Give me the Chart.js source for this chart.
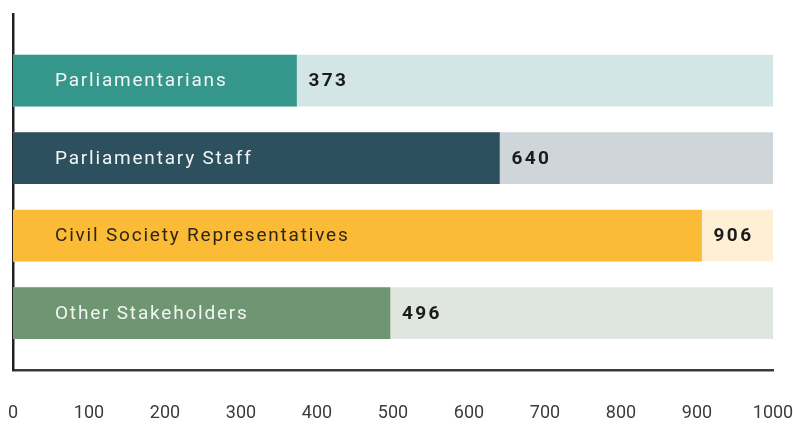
<!DOCTYPE html>
<html>
<head>
<meta charset="utf-8">
<script src="https://cdn.jsdelivr.net/npm/chart.js@4.4.1/dist/chart.umd.min.js"></script>
<style>
    html, body { margin: 0; padding: 0; background: #ffffff; }
    #wrap { width: 793px; height: 434px; }
</style>
</head>
<body>
<div id="wrap"><canvas id="participantsChart" width="793" height="434"></canvas></div>
<script>
// Données du graphique
const categories = ['Parliamentarians', 'Parliamentary Staff', 'Civil Society Representatives', 'Other Stakeholders'];
const participants = [373, 640, 906, 496];
const trackValues = [1000, 1000, 1000, 1000];
const tickValues = [0, 100, 200, 300, 400, 500, 600, 700, 800, 900, 1000];

// Couleurs
const fillColors = ['#35968b', '#2d505f', '#fbbb36', '#6f9673'];
const trackColors = ['#d2e7e5', '#ced6da', '#fff0d5', '#dfe6df'];
const labelColors = ['#f2f7f6', '#f2f5f6', '#2b2615', '#f2f5f1'];

const fillPoints = participants.map((v, i) => ({ x: v, y: i }));
const trackPoints = trackValues.map((v, i) => ({ x: v, y: i }));

// Libellés dans les barres + valeurs
const barLabels = {
    id: 'barLabels',
    afterDatasetsDraw(chart) {
        const ctx = chart.ctx;
        const meta = chart.getDatasetMeta(1);
        ctx.save();
        ctx.textBaseline = 'middle';
        ctx.textAlign = 'left';
        meta.data.forEach((bar, i) => {
            ctx.font = '19px Roboto';
            ctx.letterSpacing = '1.8px';
            ctx.fillStyle = labelColors[i];
            ctx.fillText(categories[i], bar.base + 42, bar.y + 1);

            ctx.font = 'bold 19px Roboto';
            ctx.letterSpacing = '2.4px';
            ctx.fillStyle = '#1b1b1b';
            ctx.fillText(String(participants[i]), bar.x + 12, bar.y + 1);
        });
        ctx.restore();
    }
};

new Chart(document.getElementById('participantsChart'), {
    type: 'bar',
    data: {
        datasets: [
            {
                label: 'Track',
                data: trackPoints,
                backgroundColor: trackColors,
                borderWidth: 0,
                barThickness: 51,
                grouped: false,
                order: 2
            },
            {
                label: 'Participants',
                data: fillPoints,
                backgroundColor: fillColors,
                borderWidth: 0,
                barThickness: 51,
                grouped: false,
                order: 1
            }
        ]
    },
    options: {
        indexAxis: 'y',
        responsive: false,
        animation: false,
        layout: {
            padding: { top: 14, right: 20, bottom: 10, left: 12 }
        },
        plugins: {
            legend: { display: false },
            tooltip: { enabled: false }
        },
        scales: {
            x: {
                type: 'linear',
                min: 0,
                max: 1000,
                afterBuildTicks(scale) {
                    scale.ticks = tickValues.map(v => ({ value: v }));
                },
                afterFit(scale) {
                    scale.height = 54;
                    scale.paddingLeft = 0;
                    scale.paddingRight = 0;
                },
                grid: { display: false, drawTicks: false },
                border: { display: true, color: '#3a3a3a', width: 2.5 },
                ticks: {
                    padding: 33,
                    maxRotation: 0,
                    minRotation: 0,
                    color: '#3c3c3c',
                    font: { family: 'Roboto', size: 18 },
                    callback: (value) => String(value)
                }
            },
            y: {
                type: 'linear',
                min: -0.86,
                max: 3.735,
                reverse: true,
                offset: false,
                afterFit(scale) {
                    scale.width = 1;
                },
                grid: { display: false, drawTicks: false, tickLength: 0, offset: false },
                border: { display: true, color: '#222222', width: 2.5 },
                ticks: { display: false }
            }
        }
    },
    plugins: [barLabels]
});
</script>
</body>
</html>
